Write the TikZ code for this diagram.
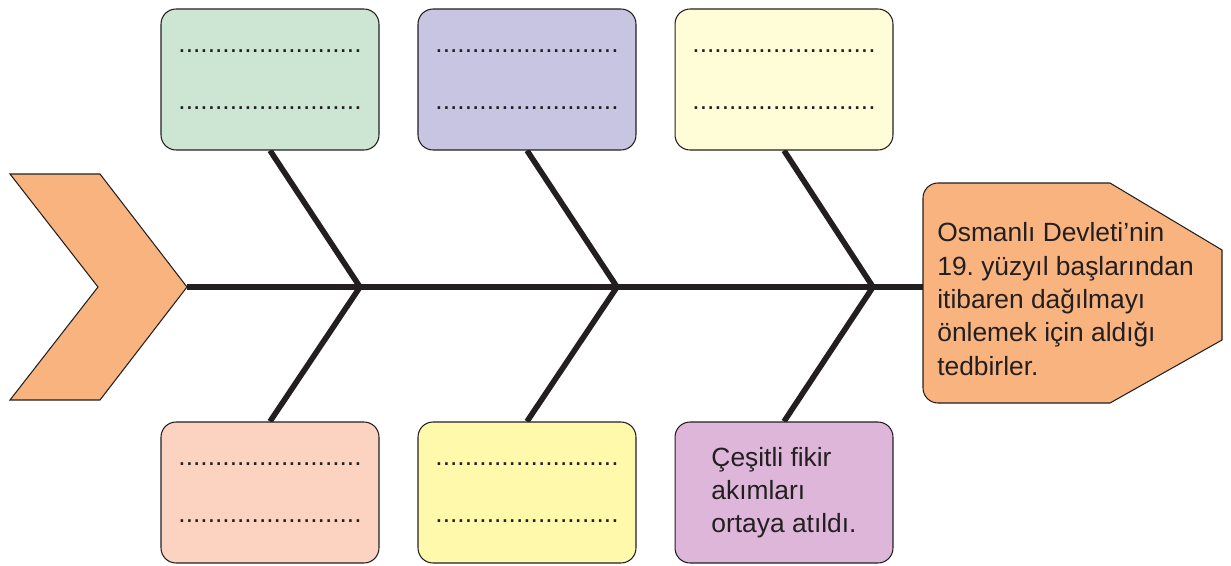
\documentclass[tikz, border = 0pt]{standalone}
\usepackage{fontspec}
\setmainfont{Liberation Sans}
\usetikzlibrary{backgrounds}
\frenchspacing

\definecolor{boneblack}{HTML}{231F20}
\definecolor{headorange}{HTML}{F8B37F}
\definecolor{greenbox}{HTML}{CDE6D4}
\definecolor{lilacbox}{HTML}{C8C5E2}
\definecolor{creambox}{HTML}{FFFCD8}
\definecolor{pinkbox}{HTML}{FBD3C0}
\definecolor{lemonbox}{HTML}{FFF9AB}
\definecolor{plumbox}{HTML}{DDB6D9}

\newcommand{\dotrow}{.........................}

\begin{document}
\begin{tikzpicture}[x = 0.02cm, y = -0.02cm, text = boneblack,
	cause/.style = {draw = boneblack, line width = 0.6pt, rounded corners = 0.3cm,
		minimum width = 4.36cm, minimum height = 2.82cm, inner sep = 0,
		align = center, font = \fontsize{15}{32.3}\selectfont},
	bone/.style = {draw = boneblack, line width = 3.2pt, line join = miter}]

	\useasboundingbox (0, 0) rectangle (1231, 565);

	% Tail

	\draw [fill = headorange, draw = boneblack, line width = 0.6pt]
		(10, 174) -- (100, 174) -- (187, 287) -- (100, 400) -- (10, 400) -- (98, 287) -- cycle;
	\coordinate (tail) at (187, 287);

	% Head

	\draw [fill = headorange, draw = boneblack, line width = 0.6pt]
		(1222, 340) -- (1110, 403) [rounded corners = 0.3cm] -- (923, 403) -- (923, 183)
		[sharp corners] -- (1110, 183) -- (1222, 250) -- cycle;
	\coordinate (head) at (923, 287);

	\node [anchor = west, align = left, inner sep = 0, font = \fontsize{15}{19}\selectfont]
		(goal) at (937, 299) {Osmanlı Devleti’nin\\19. yüzyıl başlarından\\itibaren dağılmayı\\önlemek için aldığı\\tedbirler.};

	% Cause boxes

	\foreach \name/\x/\col in {t1/270/greenbox, t2/527/lilacbox, t3/784/creambox}
		\node [cause, fill = \col] (\name) at (\x, 79.5) {\dotrow\\\dotrow};

	\foreach \name/\x/\col in {b1/270/pinkbox, b2/527/lemonbox}
		\node [cause, fill = \col] (\name) at (\x, 492.5) {\dotrow\\\dotrow};

	\node [cause, fill = plumbox, align = left, font = \fontsize{15}{18.8}\selectfont]
		(b3) at (784, 492.5) {Çeşitli fikir\\akımları\\ortaya atıldı.};

	% Spine and bones

	\coordinate (j1) at (360, 287);
	\coordinate (j2) at (617, 287);
	\coordinate (j3) at (873, 287);

	\begin{scope}[on background layer]
		\draw [bone] (tail) -- (j1) -- (j2) -- (j3) -- (head);
		\foreach \i in {1, 2, 3}
			\draw [bone] (t\i.south) -- (j\i) -- (b\i.north);
	\end{scope}

\end{tikzpicture}
\end{document}
